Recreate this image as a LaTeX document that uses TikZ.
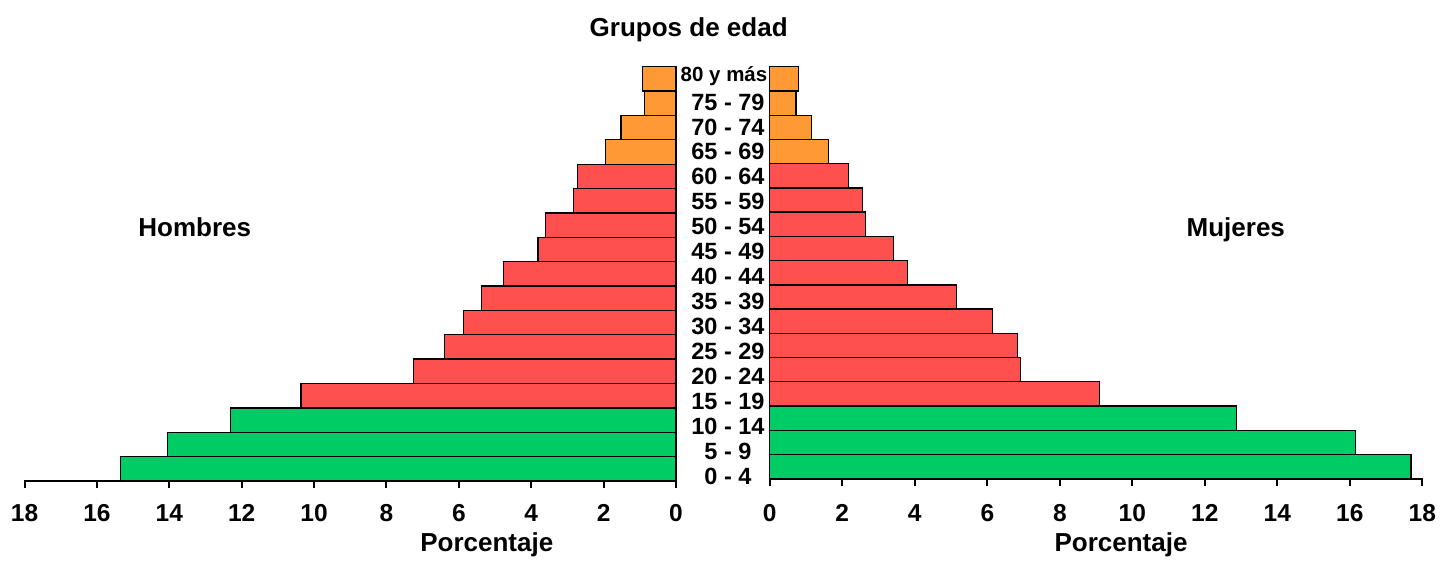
\documentclass[tikz,border=0pt]{standalone}
\usepackage{fontspec}
\setmainfont{Liberation Sans}
\definecolor{barO}{RGB}{255,153,51}
\definecolor{barR}{RGB}{255,80,80}
\definecolor{barG}{RGB}{0,204,102}
\begin{document}
\begin{tikzpicture}[x=1pt,y=-1pt,
  bar/.style={draw=black,line width=1.3pt},
  lbl/.style={font=\bfseries\fontsize{23.5}{24}\selectfont,anchor=base,inner sep=0pt},
  ticklbl/.style={font=\bfseries\fontsize{24.5}{25}\selectfont,anchor=base,inner sep=0pt},
  ttl/.style={font=\bfseries\fontsize{26}{27}\selectfont,anchor=base,inner sep=0pt},
  axisline/.style={line width=2pt,line cap=rect},
  tickline/.style={line width=2pt}]
\useasboundingbox (0,0) rectangle (1440,563);
% Hombres bars
\foreach \e/\c [count=\i from 0] in {642.7/barO,644.3/barO,621/barO,605.7/barO,577.7/barR,573.3/barR,545.3/barR,538/barR,503.3/barR,481.7/barR,463.7/barR,444.3/barR,413.7/barR,301/barR,230.7/barG,167.7/barG,120.7/barG}{
  \pgfmathsetmacro\yt{66.7+24.37*\i}
  \pgfmathsetmacro\yb{66.7+24.37*(\i+1)}
  \draw[bar,fill=\c] (\e,\yt) rectangle (676,\yb);
}
% Mujeres bars
\foreach \e/\c [count=\i from 0] in {798.7/barO,796/barO,811.3/barO,828.3/barO,848.7/barR,862.7/barR,865.3/barR,893.7/barR,907.7/barR,956.3/barR,992.3/barR,1017.7/barR,1020.3/barR,1099.7/barR,1236.7/barG,1355.7/barG,1411/barG}{
  \pgfmathsetmacro\yt{66.7+24.24*\i}
  \pgfmathsetmacro\yb{66.7+24.24*(\i+1)}
  \draw[bar,fill=\c] (769.8,\yt) rectangle (\e,\yb);
}
% axes
\draw[axisline] (24.5,481) -- (676,481);
\draw[axisline] (769.8,478.7) -- (1422.3,478.7);
\foreach \k in {0,...,9}{
  \pgfmathsetmacro\xl{676-72.38*\k}
  \pgfmathsetmacro\xr{769.8+72.5*\k}
  \pgfmathtruncatemacro\v{2*\k}
  \draw[tickline] (\xl,481) -- (\xl,488);
  \draw[tickline] (\xr,478.7) -- (\xr,486);
  \node[ticklbl] (lt\k) at (\xl,521.7) {\v};
  \node[ticklbl] (rt\k) at (\xr,521.7) {\v};
}
% age labels
\node[font=\bfseries\fontsize{20.5}{21}\selectfont,anchor=base,inner sep=0pt] (g0) at (724,81.7) {80 y más};
\foreach \t [count=\i from 1] in {75 - 79,70 - 74,65 - 69,60 - 64,55 - 59,50 - 54,45 - 49,40 - 44,35 - 39,30 - 34,25 - 29,20 - 24,15 - 19,10 - 14,5 - 9,0 - 4}{
  \pgfmathsetmacro\yy{76.8+24.93*\i+8.4}
  \node[lbl] (g\i) at (728,\yy) {\t};
}
% titles
\node[ttl] (titulo) at (688.7,36) {Grupos de edad};
\node[ttl] (hombres) at (194.7,236) {Hombres};
\node[ttl] (mujeres) at (1235.8,236) {Mujeres};
\node[ttl] (porcL) at (486.8,551) {Porcentaje};
\node[ttl] (porcR) at (1121,551) {Porcentaje};
\end{tikzpicture}
\end{document}
